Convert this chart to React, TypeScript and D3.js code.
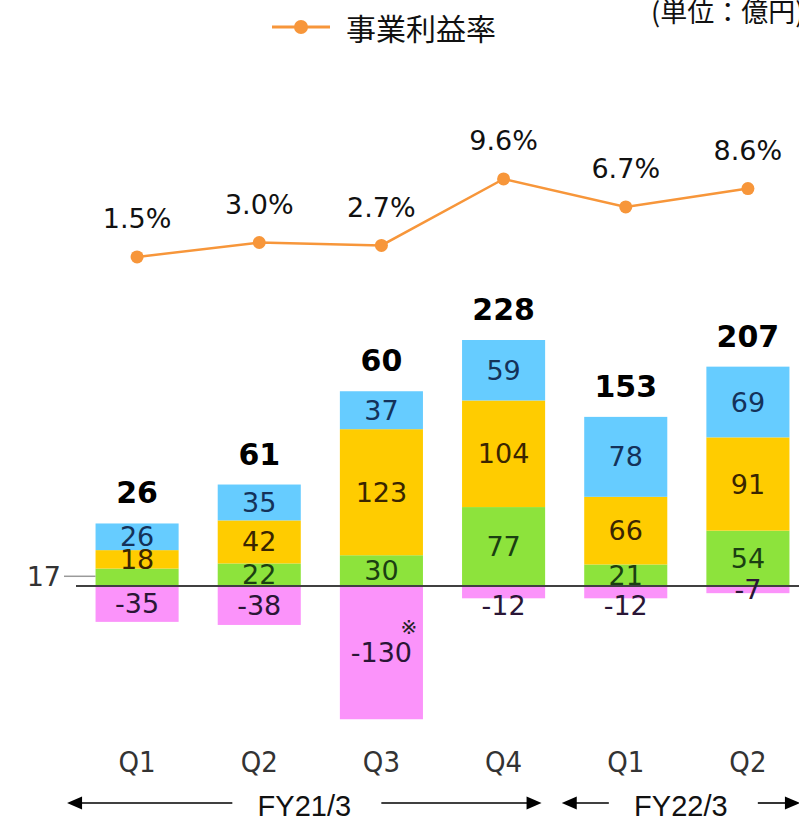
import React from "react";
import * as d3 from "d3";

// quarterly business profit by segment (億円) and business profit margin (%)
const quarters = ["Q1", "Q2", "Q3", "Q4", "Q1", "Q2"];
const periodKeys = ["21Q1", "21Q2", "21Q3", "21Q4", "22Q1", "22Q2"];
const blueSeg = [26, 35, 37, 59, 78, 69];
const yellowSeg = [18, 42, 123, 104, 66, 91];
const greenSeg = [17, 22, 30, 77, 21, 54];
const pinkSeg = [-35, -38, -130, -12, -12, -7];
const totals = [26, 61, 60, 228, 153, 207];
const marginPct = [1.5, 3.0, 2.7, 9.6, 6.7, 8.6];
const notes = ["", "", "※", "", "", ""];
const fyLabels = ["FY21/3", "FY22/3"];

const width = 799;
const height = 820;
const ORANGE = "#F7963A";
const NUM_FONT = "DejaVu Sans, Verdana, sans-serif";

const segColors = {
  green: { fill: "#8DE33C", text: "#1B3F12" },
  yellow: { fill: "#FFCC00", text: "#3A2500" },
  blue: { fill: "#66CCFF", text: "#14325A" },
  pink: { fill: "#FB93FA", text: "#2A1636" },
};

const x = d3.scaleBand<string>()
  .domain(periodKeys)
  .range([76, 809])
  .paddingInner(0.32)
  .paddingOuter(0.16);

const y = d3.scaleLinear().domain([-140, 250]).range([729.5, 329.75]);
const yPct = d3.scaleLinear().domain([0, 10]).range([271.4, 175.1]);

const pctLine = d3.line<number>()
  .x((_, i) => x(periodKeys[i])! + x.bandwidth() / 2)
  .y(d => yPct(d));

const Arrow = ({ x1, x2, yy }: { x1: number; x2: number; yy: number }) => {
  const dir = x2 > x1 ? 1 : -1;
  return (
    <g>
      <line x1={x1} x2={x2 - dir * 12} y1={yy} y2={yy} stroke="#000" strokeWidth={1.6} />
      <path d={`M${x2},${yy} L${x2 - dir * 15},${yy - 6.5} L${x2 - dir * 15},${yy + 6.5} Z`} fill="#000" />
    </g>
  );
};

export default function App() {
  const bw = x.bandwidth();
  const zero = y(0);

  const bars = periodKeys.map((key, i) => {
    const x0 = x(key)!;
    const cx = x0 + bw / 2;
    const stack = [
      { name: "green", v: greenSeg[i] },
      { name: "yellow", v: yellowSeg[i] },
      { name: "blue", v: blueSeg[i] },
    ];
    let acc = 0;
    const pieces = stack.map(s => {
      const lo = acc;
      acc += s.v;
      return { ...s, y0: y(acc), y1: y(lo) };
    });
    const neg = pinkSeg[i];
    return { key, i, x0, cx, pieces, top: y(acc), neg, negBottom: y(neg) };
  });

  const fySpans = [
    [bars[0].cx - 70, bars[3].cx + 38],
    [bars[4].cx - 64, bars[5].cx + 52],
  ];

  return (
    <div>
      <style>{"body{margin:0;overflow:hidden}"}</style>
      <svg width={width} height={height} style={{ display: "block", background: "#fff" }}>
        {/* legend */}
        <line x1={272} x2={330} y1={27} y2={27} stroke={ORANGE} strokeWidth={3} />
        <circle cx={301} cy={27} r={7} fill={ORANGE} />
        <text x={346} y={40} fontSize={30} fontFamily="Noto Sans CJK JP, sans-serif" fill="#111">
          事業利益率
        </text>
        <text x={651} y={22} fontSize={27} fontFamily="Noto Sans CJK JP, sans-serif" fill="#111">
          (単位：億円)
        </text>

        {/* margin line */}
        <path d={pctLine(marginPct)!} fill="none" stroke={ORANGE} strokeWidth={2.5} />
        {marginPct.map((v, i) => {
          const cx = bars[i].cx;
          return (
            <g key={"p" + i}>
              <circle cx={cx} cy={yPct(v)} r={6.5} fill={ORANGE} />
              <text x={cx} y={yPct(v) - 38} textAnchor="middle" dominantBaseline="central"
                fontSize={27} fontFamily={NUM_FONT} fill="#111">
                {v.toFixed(1) + "%"}
              </text>
            </g>
          );
        })}

        {/* bars */}
        {bars.map(b => (
          <g key={b.key}>
            <rect x={b.x0} y={zero} width={bw} height={b.negBottom - zero} fill={segColors.pink.fill} />
            {b.pieces.map(p => (
              <rect key={p.name} x={b.x0} y={p.y0} width={bw} height={p.y1 - p.y0}
                fill={segColors[p.name as keyof typeof segColors].fill} />
            ))}
          </g>
        ))}

        <line x1={76} x2={width} y1={zero} y2={zero} stroke="#404040" strokeWidth={2} />

        {/* segment labels */}
        {bars.map(b => (
          <g key={"l" + b.key} fontFamily={NUM_FONT} fontSize={27} textAnchor="middle">
            {b.pieces.map(p => {
              const c = segColors[p.name as keyof typeof segColors];
              if (p.v < 18) {
                const ly = (p.y0 + p.y1) / 2 - 1;
                return (
                  <g key={p.name}>
                    <line x1={64} x2={b.x0} y1={ly} y2={ly} stroke="#9a9a9a" strokeWidth={1.5} />
                    <text x={61} y={ly} textAnchor="end" dominantBaseline="central" fill="#333">{p.v}</text>
                  </g>
                );
              }
              return (
                <text key={p.name} x={b.cx} y={(p.y0 + p.y1) / 2} dominantBaseline="central" fill={c.text}>
                  {p.v}
                </text>
              );
            })}
            {(() => {
              const h = b.negBottom - zero;
              const below = Math.abs(b.neg) >= 10 && Math.abs(b.neg) < 20;
              const ly = below ? b.negBottom + 7 : zero + h / 2;
              return (
                <text x={b.cx} y={ly} dominantBaseline="central" fill={segColors.pink.text}>{b.neg}</text>
              );
            })()}
            {notes[b.i] && (
              <text x={b.x0 + bw - 14} y={zero + 41} fontSize={20} dominantBaseline="central" fill="#222">
                {notes[b.i]}
              </text>
            )}
            <text x={b.cx} y={b.top - 20} fontSize={30} fontWeight="bold" fill="#000">
              {totals[b.i]}
            </text>
          </g>
        ))}

        {/* quarter axis */}
        {bars.map(b => (
          <text key={"q" + b.key} x={b.cx} y={762} textAnchor="middle" dominantBaseline="central"
            fontSize={29} fontFamily="Liberation Sans Narrow, DejaVu Sans Condensed, sans-serif" fill="#333">
            {quarters[b.i]}
          </text>
        ))}

        {/* fiscal year spans */}
        {fyLabels.map((label, k) => {
          const [l, r] = fySpans[k];
          const mid = (l + r) / 2;
          return (
            <g key={label}>
              <Arrow x1={mid - 72} x2={l} yy={803} />
              <Arrow x1={mid + 77} x2={r} yy={803} />
              <text x={mid} y={816} textAnchor="middle" fontSize={29}
                fontFamily="Liberation Sans, Arial, sans-serif" fill="#111">
                {label}
              </text>
            </g>
          );
        })}
      </svg>
    </div>
  );
}
